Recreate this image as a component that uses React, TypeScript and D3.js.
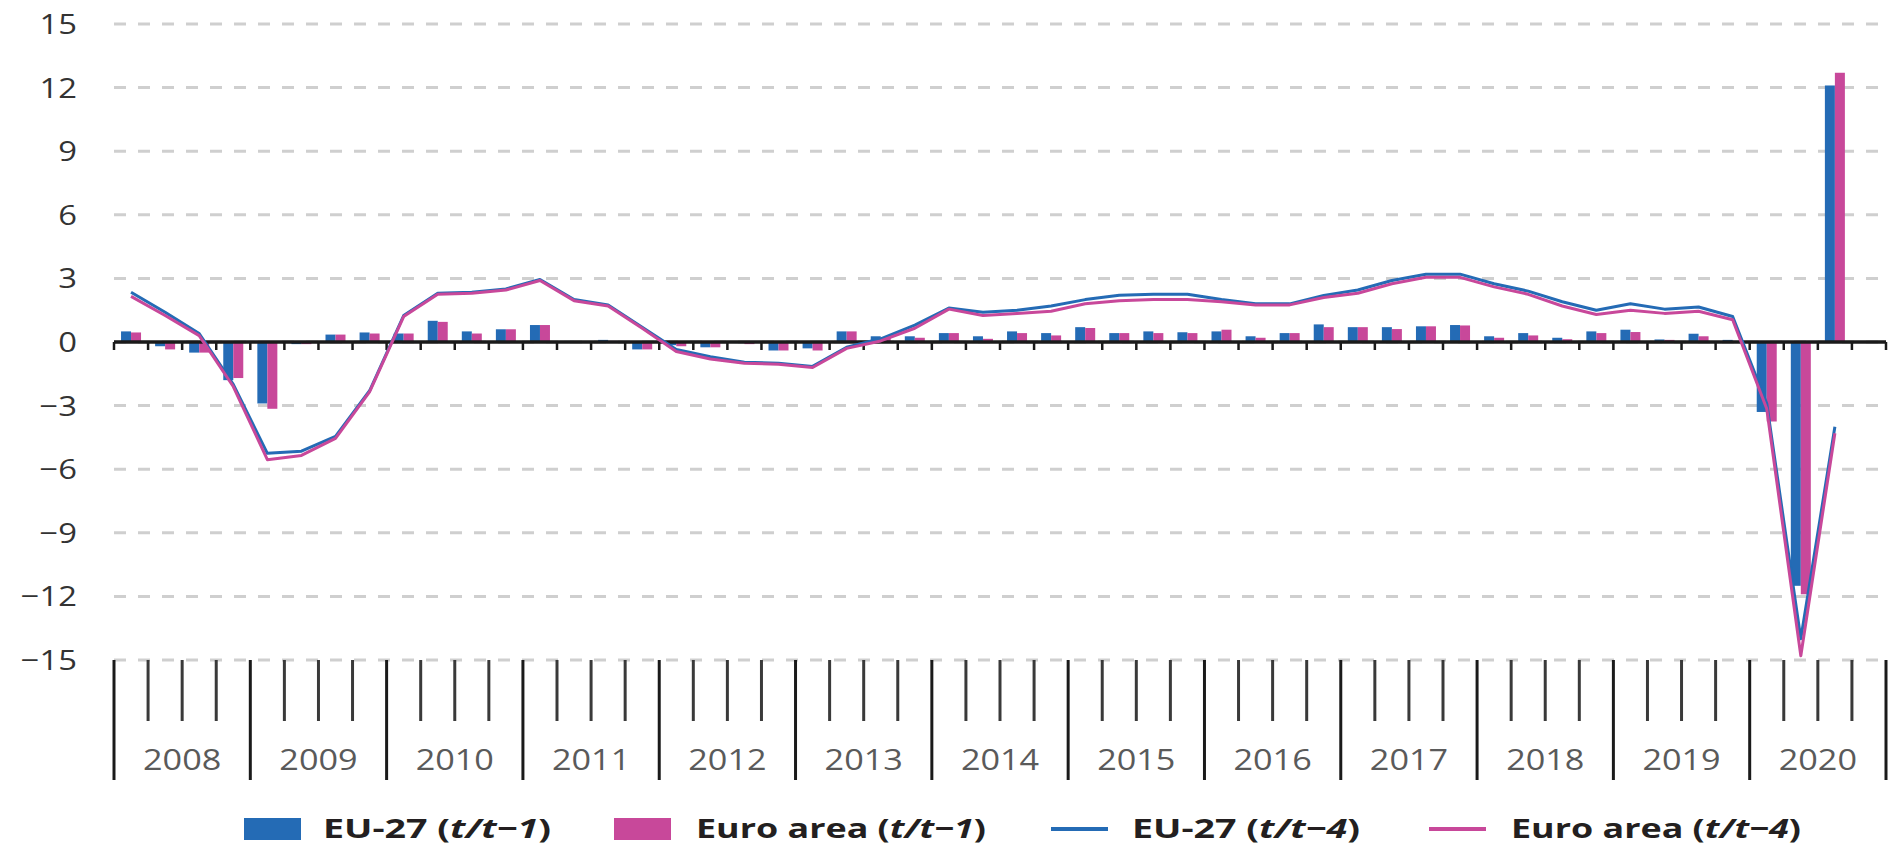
import React from "react";
import * as d3 from "d3";

const years = ["2008","2009","2010","2011","2012","2013","2014","2015","2016","2017","2018","2019","2020"];
const quarters = ["Q1","Q2","Q3","Q4"];
const yTicks = [15, 12, 9, 6, 3, 0, -3, -6, -9, -12, -15];

// EU-27 (t/t-1), quarter-on-quarter growth, 2008Q1 .. 2020Q3
const euT1 = [0.5,-0.2,-0.5,-1.8, -2.9,-0.1,0.35,0.45, 0.4,1.0,0.5,0.6, 0.8,0.05,0.1,-0.35,
  -0.15,-0.25,-0.05,-0.4, -0.3,0.5,0.27,0.27, 0.42,0.27,0.5,0.42, 0.7,0.42,0.5,0.46,
  0.5,0.27,0.42,0.83, 0.7,0.7,0.74,0.8, 0.27,0.42,0.2,0.5, 0.58,0.12,0.39,0.1, -3.3,-11.5,12.1];
// Euro area (t/t-1)
const eaT1 = [0.45,-0.35,-0.5,-1.7, -3.15,-0.1,0.35,0.4, 0.4,0.95,0.4,0.6, 0.8,0.0,0.05,-0.35,
  -0.2,-0.25,-0.1,-0.4, -0.4,0.5,0.2,0.2, 0.42,0.15,0.42,0.31, 0.66,0.42,0.42,0.42,
  0.58,0.2,0.42,0.7, 0.7,0.61,0.74,0.78, 0.2,0.31,0.13,0.42, 0.47,0.1,0.27,0.05, -3.75,-11.9,12.7];
// EU-27 (t/t-4)
const euT4 = [2.35,1.4,0.4,-2.0, -5.25,-5.15,-4.45,-2.3, 1.25,2.3,2.35,2.5, 2.95,2.0,1.75,0.7,
  -0.35,-0.7,-0.95,-1.0, -1.15,-0.25,0.15,0.8, 1.6,1.4,1.5,1.7, 2.0,2.2,2.25,2.25,
  2.0,1.8,1.8,2.2, 2.45,2.9,3.2,3.2, 2.75,2.4,1.9,1.5, 1.8,1.55,1.65,1.2, -2.9,-14.0,-4.0];
// Euro area (t/t-4)
const eaT4 = [2.15,1.25,0.3,-2.1, -5.55,-5.35,-4.55,-2.35, 1.2,2.25,2.3,2.45, 2.9,1.95,1.7,0.65,
  -0.45,-0.8,-1.0,-1.05, -1.2,-0.3,0.05,0.65, 1.55,1.25,1.35,1.45, 1.8,1.95,2.0,2.0,
  1.9,1.75,1.75,2.1, 2.3,2.75,3.05,3.05, 2.6,2.25,1.7,1.3, 1.5,1.35,1.45,1.05, -3.15,-14.8,-4.3];

const BLUE = "#246bb5";
const PINK = "#c8489a";

const periods = years.flatMap((y) => quarters.map((q) => `${y}${q}`));

export default function App() {
  const W = 1888, H = 847;
  const x0 = 114, x1 = 1886;
  const x = d3.scaleBand<string>().domain(periods).range([x0, x1]).padding(0);
  const bw = x.bandwidth();
  const xs = d3.scaleBand<string>().domain(["eu", "ea"]).range([bw / 2 - 10, bw / 2 + 10]).padding(0);
  const xYear = d3.scaleBand<string>().domain(years).range([x0, x1]).padding(0);
  const y = d3.scaleLinear().domain([-15, 15]).range([660, 24]);
  const yBot = y(-15);

  const line = d3.line<number>()
    .x((_, i) => (x(periods[i]) as number) + bw / 2)
    .y((d) => y(d));

  const bars = (vals: number[], key: string, color: string) =>
    vals.map((v, i) => (
      <rect key={key + i}
        x={(x(periods[i]) as number) + (xs(key) as number)}
        y={Math.min(y(v), y(0))}
        width={xs.bandwidth()}
        height={Math.abs(y(v) - y(0))}
        fill={color} />
    ));

  const boundaries = d3.range(periods.length + 1).map((i) => x0 + i * bw);

  const legend = [
    { kind: "rect", color: BLUE, label: "EU-27", sub: "t/t\u22121", sx: 244, tx: 323, tl: 228 },
    { kind: "rect", color: PINK, label: "Euro area", sub: "t/t\u22121", sx: 614, tx: 696, tl: 290 },
    { kind: "line", color: BLUE, label: "EU-27", sub: "t/t\u22124", sx: 1051, tx: 1132, tl: 228 },
    { kind: "line", color: PINK, label: "Euro area", sub: "t/t\u22124", sx: 1429, tx: 1511, tl: 290 },
  ];

  return (
    <svg width={W} height={H} style={{ position: "absolute", left: 0, top: 0, display: "block", background: "#fff" }}
      fontFamily="'Open Sans', sans-serif">
      {/* grid */}
      {yTicks.map((t) => (
        <line key={"g" + t} x1={x0} x2={x1} y1={y(t)} y2={y(t)}
          stroke="#cfcfcf" strokeWidth={3} strokeDasharray="12,12" />
      ))}
      {/* y labels */}
      {yTicks.map((t) => (
        <text key={"yl" + t} transform={`translate(77,${y(t)}) scale(1.17,1)`} dy="0.36em"
          textAnchor="end" fontSize={28} fill="#333" fontWeight={500}>
          {t < 0 ? "\u2212" + Math.abs(t) : String(t)}
        </text>
      ))}
      {/* bars */}
      {bars(euT1, "eu", BLUE)}
      {bars(eaT1, "ea", PINK)}
      {/* zero axis */}
      <line x1={x0} x2={x1} y1={y(0)} y2={y(0)} stroke="#1a1a1a" strokeWidth={3.5} />
      {boundaries.map((bx, i) => (
        <line key={"zt" + i} x1={bx} x2={bx} y1={y(0)} y2={y(0) + 8} stroke="#1a1a1a" strokeWidth={2.5} />
      ))}
      {/* lines */}
      <path d={line(euT4) || ""} fill="none" stroke={BLUE} strokeWidth={3} strokeLinejoin="round" />
      <path d={line(eaT4) || ""} fill="none" stroke={PINK} strokeWidth={3} strokeLinejoin="round" />
      {/* bottom ticks */}
      {boundaries.map((bx, i) => (
        <line key={"bt" + i} x1={bx} x2={bx} y1={yBot} y2={i % 4 === 0 ? 780 : 721}
          stroke={i % 4 === 0 ? "#1a1a1a" : "#3a3a3a"} strokeWidth={3} />
      ))}
      {years.map((yr) => (
        <text key={"yr" + yr}
          transform={`translate(${(xYear(yr) as number) + xYear.bandwidth() / 2},770) scale(1.14,1)`}
          textAnchor="middle" fontSize={30} fill="#5a5a5a" fontWeight={400}>
          {yr}
        </text>
      ))}
      {/* legend */}
      {legend.map((l, i) => (
        <g key={"lg" + i}>
          {l.kind === "rect"
            ? <rect x={l.sx} y={818} width={57} height={22} fill={l.color} />
            : <line x1={l.sx} x2={l.sx + 57} y1={829} y2={829} stroke={l.color} strokeWidth={4} />}
          <text x={l.tx} y={838} fontSize={27} fontWeight={700} fill="#231f20"
            textLength={l.tl} lengthAdjust="spacingAndGlyphs">
            {l.label} (<tspan fontStyle="italic">{l.sub}</tspan>)
          </text>
        </g>
      ))}
    </svg>
  );
}
